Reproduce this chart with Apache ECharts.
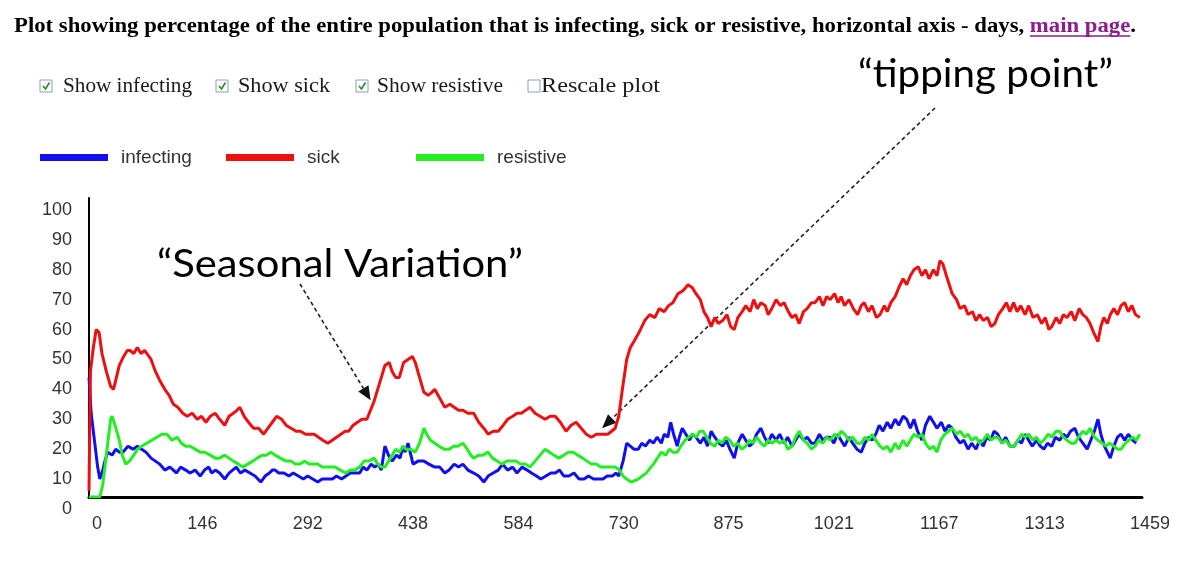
<!DOCTYPE html>
<html><head><meta charset="utf-8">
<script src="https://cdn.jsdelivr.net/npm/echarts/dist/echarts.min.js"></script>
<style>html,body{margin:0;padding:0;background:#fff}#c{width:1200px;height:578px}</style>
</head><body><div id="c"></div>
<script>
// ---- data: [day, percent] ----
const xTickLabels = [0,146,292,438,584,730,875,1021,1167,1313,1459];
const yTickStep = 10;

const infectingData = [[0,40],[3,28],[8,18],[12,10],[15,6],[19,9],[22,12],[26,15],[32,14],[37,16],[42,15],[47,15],[54,17],[61,16],[67,17],[73,16],[79,15],[86,13],[92,12],[98,11],[105,9],[112,10],[117,9],[121,8],[127,10],[134,9],[140,8],[147,9],[154,7],[160,9],[166,10],[170,8],[175,9],[181,8],[188,6],[194,8],[199,9],[204,10],[210,8],[216,9],[223,8],[230,7],[234,6],[238,5],[244,7],[250,8],[254,9],[258,9],[263,8],[270,8],[277,7],[283,8],[290,7],[297,6],[303,7],[310,6],[317,5],[323,6],[330,6],[337,6],[343,7],[350,6],[356,7],[362,8],[369,8],[375,8],[380,10],[385,9],[391,11],[396,10],[401,11],[405,9],[410,17],[415,14],[420,12],[426,14],[431,13],[435,17],[438,15],[442,18],[446,14],[449,11],[456,12],[464,12],[471,11],[479,10],[486,10],[493,8],[499,9],[506,11],[512,10],[518,11],[525,9],[533,8],[540,7],[547,5],[553,7],[560,8],[567,9],[573,11],[580,9],[587,10],[593,8],[600,10],[607,9],[613,8],[620,7],[626,6],[633,7],[640,8],[646,8],[652,9],[658,7],[665,7],[672,8],[679,6],[686,6],[692,7],[699,6],[705,6],[712,6],[718,7],[725,7],[730,8],[734,7],[740,12],[745,18],[750,17],[755,16],[761,16],[766,18],[771,17],[777,19],[782,18],[787,20],[793,18],[797,21],[802,20],[806,25],[810,21],[815,17],[818,20],[822,23],[827,21],[832,19],[836,21],[841,20],[847,18],[852,20],[857,17],[862,22],[867,20],[873,18],[878,17],[883,19],[888,16],[894,13],[899,18],[905,21],[910,19],[915,17],[920,18],[925,21],[931,23],[936,20],[941,18],[946,21],[952,19],[957,21],[963,18],[968,20],[974,17],[979,19],[984,21],[990,19],[995,20],[1001,18],[1006,18],[1012,21],[1017,19],[1022,20],[1027,20],[1032,18],[1037,21],[1042,19],[1047,17],[1053,20],[1058,18],[1064,16],[1070,15],[1075,18],[1080,20],[1085,19],[1090,21],[1095,24],[1100,22],[1106,25],[1111,23],[1117,26],[1122,24],[1128,27],[1133,26],[1138,23],[1143,26],[1148,22],[1154,19],[1159,24],[1165,27],[1170,25],[1175,23],[1181,25],[1186,22],[1191,24],[1196,23],[1201,20],[1207,18],[1212,19],[1218,16],[1223,18],[1229,16],[1234,19],[1239,17],[1244,20],[1249,19],[1254,22],[1259,21],[1265,18],[1270,20],[1276,17],[1282,17],[1287,19],[1292,18],[1297,21],[1302,19],[1307,17],[1313,19],[1318,17],[1323,16],[1328,18],[1334,17],[1339,20],[1345,19],[1350,21],[1355,20],[1360,22],[1366,23],[1371,20],[1377,18],[1383,16],[1388,19],[1393,22],[1398,26],[1402,21],[1407,17],[1411,15],[1415,13],[1420,17],[1425,20],[1430,21],[1435,19],[1440,21],[1446,19],[1451,18]];

const sickData = [[0,2],[2,42],[6,50],[10,56],[14,55],[18,48],[24,42],[30,37],[34,36],[38,40],[42,44],[48,47],[53,49],[57,49],[62,48],[67,50],[72,48],[77,49],[80,48],[86,46],[92,42],[98,39],[105,36],[111,34],[117,31],[123,30],[130,28],[136,27],[143,28],[150,26],[156,27],[162,25],[168,27],[175,28],[181,26],[188,24],[194,27],[200,28],[205,29],[209,30],[215,27],[221,25],[228,23],[235,23],[242,21],[248,23],[254,25],[260,27],[267,26],[273,24],[280,23],[287,22],[293,22],[300,21],[306,21],[312,21],[318,20],[324,19],[331,18],[337,19],[343,20],[349,21],[355,22],[360,22],[366,24],[372,25],[378,26],[385,26],[390,29],[395,32],[400,36],[405,40],[410,44],[416,45],[420,42],[425,40],[430,40],[436,45],[442,46],[448,47],[452,45],[458,40],[464,35],[470,34],[475,35],[479,36],[486,33],[493,30],[500,31],[506,30],[512,29],[518,29],[525,28],[533,28],[540,25],[547,23],[553,21],[560,22],[567,22],[574,24],[580,26],[587,27],[593,28],[599,28],[605,29],[611,30],[618,28],[625,27],[632,26],[639,27],[646,27],[653,25],[661,22],[668,24],[675,25],[682,23],[689,21],[696,20],[703,21],[710,21],[719,21],[724,22],[729,23],[734,27],[739,36],[745,46],[750,50],[755,52],[762,55],[770,59],[777,61],[784,60],[790,63],[797,62],[803,64],[809,65],[816,68],[823,69],[830,71],[836,70],[841,68],[847,66],[852,62],[857,60],[862,57],[867,60],[872,58],[878,59],[884,61],[889,57],[894,56],[899,60],[905,62],[910,64],[916,62],[921,66],[926,63],[931,65],[937,64],[941,61],[946,63],[952,66],[958,64],[963,65],[969,62],[974,60],[979,61],[984,58],[990,62],[995,63],[1001,65],[1006,65],[1012,67],[1017,64],[1022,67],[1027,66],[1033,68],[1038,65],[1042,67],[1047,64],[1053,66],[1059,63],[1065,61],[1070,64],[1074,65],[1080,62],[1085,64],[1091,60],[1096,61],[1102,64],[1106,62],[1111,65],[1117,67],[1122,70],[1128,73],[1133,71],[1138,74],[1143,76],[1149,77],[1154,74],[1159,76],[1164,73],[1170,76],[1175,74],[1179,79],[1183,78],[1188,74],[1192,71],[1196,68],[1202,66],[1207,63],[1213,64],[1218,61],[1224,62],[1229,59],[1234,61],[1239,59],[1245,60],[1250,57],[1255,58],[1260,61],[1266,63],[1271,65],[1276,62],[1281,65],[1286,62],[1291,64],[1297,61],[1302,64],[1308,60],[1314,61],[1320,58],[1325,60],[1330,56],[1334,57],[1340,60],[1345,58],[1350,61],[1355,60],[1361,62],[1366,59],[1372,63],[1377,61],[1382,60],[1387,58],[1392,55],[1398,52],[1402,57],[1406,60],[1411,58],[1415,61],[1420,63],[1425,61],[1430,64],[1435,65],[1440,62],[1445,64],[1450,61],[1456,60]];

const resistiveData = [[0,0],[15,0],[19,4],[22,10],[26,18],[30,26],[32,27],[36,24],[42,19],[46,14],[51,11],[56,12],[62,14],[67,16],[73,17],[80,18],[87,19],[94,20],[101,21],[108,21],[115,19],[122,20],[128,18],[134,17],[140,17],[147,16],[154,15],[160,15],[168,14],[175,13],[181,13],[188,14],[194,13],[200,12],[207,11],[213,10],[220,11],[227,12],[233,13],[240,14],[246,14],[252,15],[258,14],[265,13],[273,12],[280,12],[286,11],[292,11],[299,12],[305,11],[311,11],[317,11],[323,10],[329,10],[335,10],[341,10],[348,9],[356,8],[362,9],[368,9],[375,10],[381,12],[388,12],[395,13],[400,11],[405,10],[410,10],[415,12],[420,14],[425,16],[430,15],[435,17],[439,16],[445,16],[452,15],[458,18],[464,23],[468,21],[473,19],[479,18],[485,17],[492,16],[499,16],[505,17],[511,17],[518,18],[524,16],[529,14],[533,13],[540,14],[546,14],[553,15],[559,13],[566,12],[572,11],[579,12],[585,12],[592,12],[598,11],[605,11],[611,10],[618,12],[625,14],[632,16],[638,15],[644,14],[651,13],[658,14],[664,15],[671,15],[677,14],[684,13],[690,12],[696,11],[703,11],[709,10],[716,10],[722,10],[729,10],[735,9],[740,7],[745,6],[751,5],[761,6],[772,8],[782,11],[793,15],[799,14],[804,16],[809,15],[815,15],[820,17],[826,19],[831,20],[836,21],[842,20],[846,22],[851,22],[856,20],[861,18],[867,17],[872,19],[877,18],[882,20],[888,19],[893,17],[899,18],[904,16],[910,17],[915,19],[920,18],[925,20],[931,18],[936,17],[941,19],[946,18],[952,19],[957,18],[963,19],[968,16],[974,17],[979,20],[984,22],[990,19],[995,18],[1001,16],[1006,17],[1011,19],[1017,18],[1022,20],[1027,19],[1033,21],[1038,20],[1042,22],[1047,21],[1053,19],[1058,20],[1064,18],[1070,18],[1075,20],[1080,19],[1085,21],[1090,19],[1096,17],[1101,16],[1106,17],[1111,15],[1117,18],[1122,16],[1128,19],[1133,17],[1138,19],[1143,21],[1149,20],[1154,21],[1159,18],[1165,16],[1170,17],[1175,15],[1180,19],[1186,21],[1191,22],[1196,23],[1202,21],[1207,22],[1213,20],[1218,21],[1223,19],[1229,20],[1234,18],[1239,19],[1245,21],[1250,19],[1255,20],[1259,20],[1265,18],[1270,19],[1276,17],[1282,17],[1287,19],[1292,21],[1297,20],[1302,21],[1308,19],[1313,20],[1318,18],[1323,19],[1329,21],[1334,20],[1340,22],[1345,22],[1350,20],[1355,19],[1361,18],[1366,18],[1371,20],[1377,22],[1382,21],[1387,23],[1393,20],[1398,19],[1404,18],[1409,17],[1414,18],[1420,17],[1425,16],[1430,16],[1436,18],[1441,19],[1446,20],[1451,19],[1456,21]];

const seriesNames = ['infecting','sick','resistive'];
const seriesColors = ['#1010ee','#ee1010','#22ee22'];

const titleMain = 'Plot showing percentage of the entire population that is infecting, sick or resistive, horizontal axis - days, ';
const titleLink = 'main page';
const checkboxLabels = ['Show infecting','Show sick','Show resistive','Rescale plot'];
const checkboxChecked = [true,true,true,false];
const annotation1 = '\u201CSeasonal Variation\u201D';
const annotation2 = '\u201Ctipping point\u201D';
const annotation1Target = [393, 32];
const annotation2Target = [722, 24];

// ---- chart ----
const chart = echarts.init(document.getElementById('c'), null, {renderer:'canvas'});
function mk(i, data){
  return {
    name: seriesNames[i], type:'line', data: data,
    showSymbol:false, symbol:'none', animation:false,
    lineStyle:{width:3, color:seriesColors[i]}, itemStyle:{color:seriesColors[i]}
  };
}
const legendBase = {icon:'rect', itemWidth:68, itemHeight:7, top:148, padding:0,
  textStyle:{fontFamily:'"Liberation Sans", Arial, sans-serif', fontSize:19, color:'#333', padding:[0,0,0,8]},
  selectedMode:false};
chart.setOption({
  animation:false,
  backgroundColor:'#fff',
  grid:{left:89, right:58, top:198, bottom:81, containLabel:false},
  legend:[
    Object.assign({}, legendBase, {left:40, data:['infecting']}),
    Object.assign({}, legendBase, {left:226, data:['sick']}),
    Object.assign({}, legendBase, {left:416, data:['resistive']})
  ],
  xAxis:{type:'value', min:0, max:1459,
    axisLine:{lineStyle:{color:'#000', width:3}},
    axisTick:{show:false}, splitLine:{show:false},
    axisLabel:{customValues:xTickLabels, formatter:v => String(v), fontFamily:'"Liberation Sans", Arial, sans-serif', fontSize:18, color:'#333', margin:18, padding:[0,0,0,16]}
  },
  yAxis:{type:'value', min:0, max:100, interval:yTickStep,
    axisLine:{show:true, lineStyle:{color:'#000', width:2}},
    axisTick:{show:false}, splitLine:{show:false},
    axisLabel:{fontFamily:'"Liberation Sans", Arial, sans-serif', fontSize:18, color:'#333', margin:17, verticalAlign:'top', lineHeight:24}
  },
  series:[mk(0,infectingData), mk(1,sickData), mk(2,resistiveData)]
});

// ---- decorations ----
const mctx = document.createElement('canvas').getContext('2d');
function tw(text, font){ mctx.font = font; return mctx.measureText(text).width; }

const g = [];
const tFont = 'bold 20px "Liberation Serif", "Times New Roman", serif';
const tFull = tw(titleMain + titleLink + '.', tFont);
const tS = (1136 - 14) / tFull;
const w1 = tw(titleMain, tFont) * tS, w2 = tw(titleLink, tFont) * tS;
const ty = 27;
g.push({type:'text', x:14, y:ty, scaleX:tS, style:{text:titleMain, font:tFont, fill:'#000', verticalAlign:'middle'}});
g.push({type:'text', x:14 + w1, y:ty, scaleX:tS, style:{text:titleLink, font:tFont, fill:'#8a1f8a', verticalAlign:'middle'}});
g.push({type:'text', x:14 + w1 + w2, y:ty, scaleX:tS, style:{text:'.', font:tFont, fill:'#000', verticalAlign:'middle'}});
g.push({type:'line', shape:{x1:14 + w1, y1:ty + 9, x2:14 + w1 + w2, y2:ty + 9}, style:{stroke:'#8a1f8a', lineWidth:1.5}});

const cbBox = [40, 216, 356, 528];
const cbText = [[63,192],[238,330],[377,503],[541,660]];
const cbFont = '21px "Liberation Serif", "Times New Roman", serif';
const cy = 86;
for (let i = 0; i < 4; i++) {
  g.push({type:'rect', shape:{x:cbBox[i], y:cy-6, width:12, height:12}, style:{fill:'#fff', stroke:'#8aa0b8', lineWidth:1}});
  if (checkboxChecked[i]) {
    g.push({type:'polyline', shape:{points:[[cbBox[i]+3, cy], [cbBox[i]+5.5, cy+3], [cbBox[i]+9.5, cy-3.5]]}, style:{stroke:'#1f8f1f', lineWidth:1.6, fill:null}});
  }
  const s = (cbText[i][1] - cbText[i][0]) / tw(checkboxLabels[i], cbFont);
  g.push({type:'text', x:cbText[i][0], y:cy, scaleX:s, style:{text:checkboxLabels[i], font:cbFont, fill:'#1a1a1a', verticalAlign:'middle'}});
}

const aFont = '38px Lato, "Open Sans", sans-serif';
const a1s = (523 - 157) / tw(annotation1, aFont);
const a2s = (1113 - 858) / tw(annotation2, aFont);
g.push({type:'text', x:157, y:265, scaleX:a1s, style:{text:annotation1, font:aFont, fill:'#000', verticalAlign:'middle'}});
g.push({type:'text', x:858, y:75, scaleX:a2s, style:{text:annotation2, font:aFont, fill:'#000', verticalAlign:'middle'}});

function arrow(from, to){
  const dx = to[0]-from[0], dy = to[1]-from[1];
  const L = Math.sqrt(dx*dx+dy*dy), ux = dx/L, uy = dy/L;
  const hl = 14, hw = 6;
  const bx = to[0] - ux*hl, by = to[1] - uy*hl;
  g.push({type:'line', shape:{x1:from[0], y1:from[1], x2:bx, y2:by}, style:{stroke:'#222', lineWidth:1.6, lineDash:[4,3]}});
  g.push({type:'polygon', shape:{points:[[to[0],to[1]], [bx - uy*hw, by + ux*hw], [bx + uy*hw, by - ux*hw]]}, style:{fill:'#111'}});
}
const p1 = chart.convertToPixel({gridIndex:0}, annotation1Target);
const p2 = chart.convertToPixel({gridIndex:0}, annotation2Target);
arrow([300, 284], [p1[0]-2, p1[1]-1]);
arrow([935, 108], [p2[0]-8, p2[1]+3]);

chart.setOption({graphic:g});
</script>
</body></html>
